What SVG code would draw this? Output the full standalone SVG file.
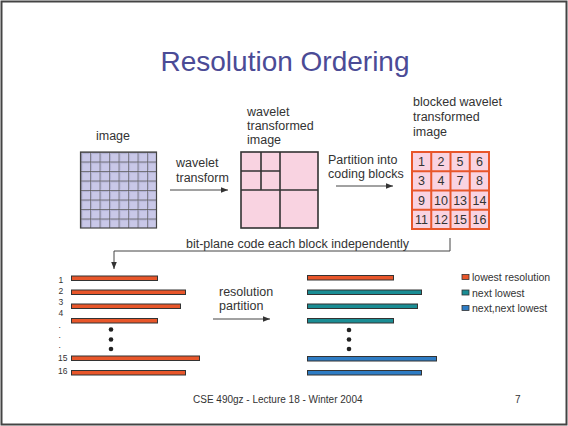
<svg xmlns="http://www.w3.org/2000/svg" width="568" height="426" viewBox="0 0 568 426">
<defs>
<style>
text{font-family:"Liberation Sans",Arial,sans-serif;fill:#333}
.lbl{font-size:12.5px}
.num{font-size:8.5px}
.leg{font-size:10.5px}
.cell{font-size:12.5px;text-anchor:middle}
.arr{stroke:#444;stroke-width:1;fill:none}
.bar{stroke:#333;stroke-width:1}
.o{fill:#E8562A}
.t{fill:#1A8D94}
.b{fill:#2E7CC4}
.dot{fill:#222}
</style>
<marker id="ah" viewBox="0 0 10 10" refX="10" refY="5" markerWidth="7" markerHeight="7" markerUnits="userSpaceOnUse" orient="auto"><path d="M0,1 L10,5 L0,9 z" fill="#333"/></marker>
<pattern id="grid" x="80.5" y="152" width="9.5" height="9.5" patternUnits="userSpaceOnUse"><rect width="9.5" height="9.5" fill="#C9C8E8"/><path d="M0,0 H9.5 M0,0 V9.5" stroke="#555" stroke-width="1.2"/><path d="M1.5,1.5 H9 M1.5,1.5 V9" stroke="#9a9ac0" stroke-width="0.6"/></pattern>
</defs>
<rect x="1.5" y="1.5" width="565" height="423" fill="#fff" stroke="#444" stroke-width="2"/>
<text x="285" y="71" text-anchor="middle" style="font-size:28px;fill:#4B4B96">Resolution Ordering</text>

<g id="image">
<text class="lbl" x="113" y="140" text-anchor="middle">image</text>
<rect x="80.5" y="152" width="76" height="76" fill="url(#grid)" stroke="#444" stroke-width="1.2"/>
</g>

<g id="wavelet">
<text class="lbl" x="247" y="116">wavelet</text>
<text class="lbl" x="247" y="130">transformed</text>
<text class="lbl" x="247" y="144">image</text>
<rect x="241" y="152" width="77" height="76" fill="#F9D3E1" stroke="#333" stroke-width="1.6"/>
<path d="M280,152 V228 M241,190 H318 M261,152 V190 M241,171 H280" stroke="#333" stroke-width="1.6" fill="none"/>
</g>

<g id="blocked">
<text class="lbl" x="413" y="106">blocked wavelet</text>
<text class="lbl" x="413" y="121">transformed</text>
<text class="lbl" x="413" y="136">image</text>
<rect x="412" y="152" width="77" height="77" fill="#F9D3E1" stroke="#E8562A" stroke-width="2"/>
<path d="M431.25,152 V229 M450.5,152 V229 M469.75,152 V229 M412,171.25 H489 M412,190.5 H489 M412,209.75 H489" stroke="#E8562A" stroke-width="2" fill="none"/>
<text class="cell" x="421.6" y="166">1</text><text class="cell" x="440.9" y="166">2</text><text class="cell" x="460.1" y="166">5</text><text class="cell" x="479.4" y="166">6</text>
<text class="cell" x="421.6" y="185.3">3</text><text class="cell" x="440.9" y="185.3">4</text><text class="cell" x="460.1" y="185.3">7</text><text class="cell" x="479.4" y="185.3">8</text>
<text class="cell" x="421.6" y="204.5">9</text><text class="cell" x="440.9" y="204.5">10</text><text class="cell" x="460.1" y="204.5">13</text><text class="cell" x="479.4" y="204.5">14</text>
<text class="cell" x="421.6" y="223.8">11</text><text class="cell" x="440.9" y="223.8">12</text><text class="cell" x="460.1" y="223.8">15</text><text class="cell" x="479.4" y="223.8">16</text>
</g>

<g id="left-bars">
<text class="num" x="58.5" y="283">1</text>
<text class="num" x="58.5" y="294">2</text>
<text class="num" x="58.5" y="305">3</text>
<text class="num" x="58.5" y="316">4</text>
<text class="num" x="58.5" y="328">.</text>
<text class="num" x="58.5" y="338">.</text>
<text class="num" x="58.5" y="348">.</text>
<text class="num" x="58" y="361">15</text>
<text class="num" x="58" y="374">16</text>
<rect class="bar o" x="71.5" y="276" width="86" height="4.5"/>
<rect class="bar o" x="71.5" y="290" width="114" height="4.5"/>
<rect class="bar o" x="71.5" y="304" width="109" height="4.5"/>
<rect class="bar o" x="71.5" y="318.5" width="86" height="4.5"/>
<circle class="dot" cx="111" cy="329.5" r="2.3"/>
<circle class="dot" cx="111" cy="339.5" r="2.3"/>
<circle class="dot" cx="111" cy="349" r="2.3"/>
<rect class="bar o" x="71.5" y="356" width="128" height="4.5"/>
<rect class="bar o" x="71.5" y="370.5" width="114" height="4.5"/>
</g>

<g id="right-bars">
<rect class="bar o" x="307.5" y="275.5" width="86" height="4.5"/>
<rect class="bar t" x="307.5" y="290" width="114" height="4.5"/>
<rect class="bar t" x="307.5" y="304" width="110" height="4.5"/>
<rect class="bar t" x="307.5" y="318.5" width="86" height="4.5"/>
<circle class="dot" cx="349" cy="330" r="2.3"/>
<circle class="dot" cx="349" cy="339.5" r="2.3"/>
<circle class="dot" cx="349" cy="349" r="2.3"/>
<rect class="bar b" x="307.5" y="356.5" width="129" height="4.5"/>
<rect class="bar b" x="307.5" y="370.5" width="114" height="4.5"/>
</g>

<g id="legend">
<rect x="462" y="274.5" width="7" height="5" fill="#E8562A" stroke="#333" stroke-width="0.8"/>
<text class="leg" x="472" y="281">lowest resolution</text>
<rect x="462" y="290" width="7" height="5" fill="#1A8D94" stroke="#333" stroke-width="0.8"/>
<text class="leg" x="472" y="296.5">next lowest</text>
<rect x="462" y="305.5" width="7" height="5" fill="#2E7CC4" stroke="#333" stroke-width="0.8"/>
<text class="leg" x="472" y="312">next,next lowest</text>
</g>

<g id="connectors">
<text class="lbl" x="176" y="167">wavelet</text>
<text class="lbl" x="176" y="182">transform</text>
<path class="arr" d="M170,190 H228" marker-end="url(#ah)"/>
<text class="lbl" x="328" y="164">Partition into</text>
<text class="lbl" x="328" y="178">coding blocks</text>
<path class="arr" d="M336,186 H393" marker-end="url(#ah)"/>
<text class="lbl" x="186" y="248">bit-plane code each block independently</text>
<path class="arr" d="M450,238 V251 H114 V269" marker-end="url(#ah)"/>
<text class="lbl" x="219" y="296">resolution</text>
<text class="lbl" x="219" y="310">partition</text>
<path class="arr" d="M213,319 H270" marker-end="url(#ah)"/>
</g>

<text x="193" y="403" style="font-size:10px">CSE 490gz - Lecture 18 - Winter 2004</text>
<text x="515" y="403" style="font-size:10px">7</text>
</svg>
